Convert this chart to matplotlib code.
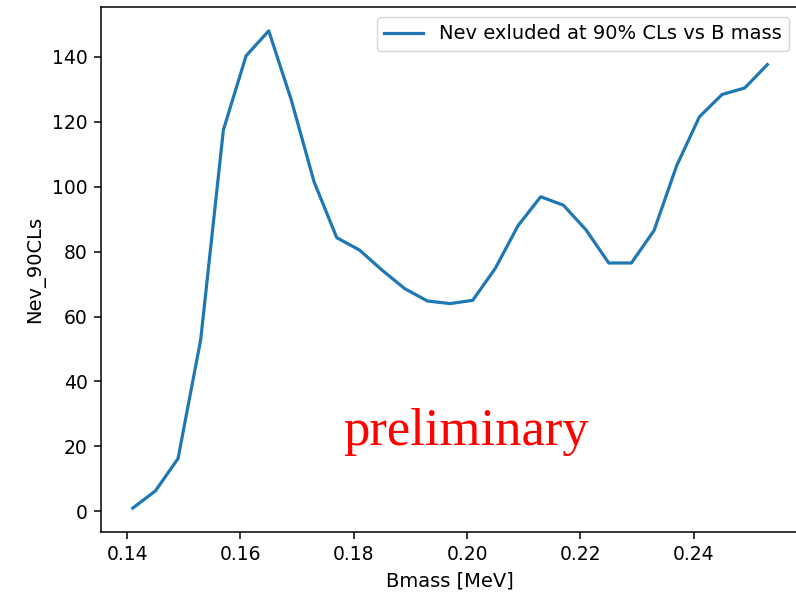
import numpy as np
import matplotlib
matplotlib.use("Agg")
import matplotlib.pyplot as plt

# B mass scan points [MeV] and excluded event counts at 90% CLs
bmass = [0.141, 0.145, 0.149, 0.153, 0.157, 0.161, 0.165, 0.169, 0.173, 0.177,
         0.181, 0.185, 0.189, 0.193, 0.197, 0.201, 0.205, 0.209, 0.213, 0.217,
         0.221, 0.225, 0.229, 0.233, 0.237, 0.241, 0.245, 0.249, 0.253]
nev_90cls = [1.0, 6.3, 16.3, 53.0, 117.5, 140.3, 148.0, 126.6, 101.5, 84.3,
             80.5, 74.3, 68.6, 64.8, 64.0, 65.0, 74.9, 88.0, 96.9, 94.3,
             86.7, 76.5, 76.5, 86.5, 106.5, 121.5, 128.4, 130.4, 137.6]

xticks = [0.14, 0.16, 0.18, 0.20, 0.22, 0.24]
yticks = [0, 20, 40, 60, 80, 100, 120, 140]

fig = plt.figure(figsize=(7.96, 5.96), dpi=100)
ax = fig.add_axes([0.1269, 0.1074, 0.877, 0.8809])
ax.plot(bmass, nev_90cls, color="#1f77b4", lw=2.3,
        label="Nev exluded at 90% CLs vs B mass")
ax.set_xticks(xticks)
ax.set_yticks(yticks)
ax.tick_params(labelsize=13.5, length=5, width=1.1, pad=4.5)
for s in ax.spines.values():
    s.set_linewidth(1.1)
ax.spines["right"].set_visible(False)
ax.set_xlabel("Bmass [MeV]", fontsize=14, labelpad=5)
ax.set_ylabel("Nev_90CLs", fontsize=14, labelpad=5)
ax.legend(loc="upper right", fontsize=14, borderaxespad=0.5)

fig.text(0.585, 0.275, "preliminary", color="red", fontsize=38,
         family="Liberation Serif", ha="center", va="center")

fig.savefig("out.png", dpi=100)
